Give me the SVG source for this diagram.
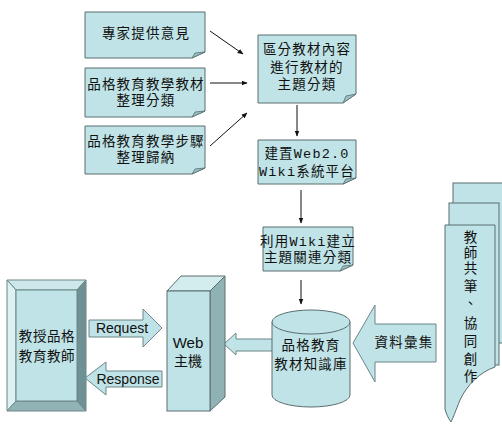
<svg xmlns="http://www.w3.org/2000/svg" width="502" height="424" viewBox="0 0 502 424">
<style>
.note{fill:#BFE3E6;stroke:#5a6e70;stroke-width:1}
.fold{fill:#98BFC2;stroke:#5a6e70;stroke-width:0.8}
.t{font-family:"Liberation Mono","Noto Sans CJK TC",monospace;font-size:13.5px;letter-spacing:1.2px;fill:#111;text-anchor:middle;dominant-baseline:central}
.s{font-family:"Liberation Sans","Noto Sans CJK TC",sans-serif;font-size:14px;fill:#111;text-anchor:middle;dominant-baseline:central}
.con{stroke:#111;stroke-width:1;fill:none;marker-end:url(#ah)}
.blk{fill:#BFE3E6;stroke:#6d8689;stroke-width:1}
.face{fill:#BFE3E6;stroke:#5a6e70;stroke-width:1}
</style>
<defs>
<marker id="ah" viewBox="0 0 10 10" refX="9" refY="5" markerWidth="6" markerHeight="6" orient="auto" markerUnits="userSpaceOnUse">
<path d="M0,1 L10,5 L0,9 Z" fill="#111"/>
</marker>
</defs>
<rect width="502" height="424" fill="#fff"/>

<g id="connectors">
<line class="con" x1="210" y1="31" x2="243" y2="54"/>
<line class="con" x1="210" y1="83" x2="247" y2="83"/>
<line class="con" x1="210" y1="146" x2="247" y2="113"/>
<line class="con" x1="297" y1="105" x2="297" y2="136"/>
<line class="con" x1="301" y1="190" x2="301" y2="223"/>
<line class="con" x1="301" y1="280" x2="301" y2="304"/>
<g id="request">
<polygon class="blk" points="89,320 143,320 143,309 162,328 143,347 143,337 89,337"/>
<text class="s" x="122" y="328">Request</text>
</g>
<g id="response">
<polygon class="blk" points="85,378 106,362 106,371 162,371 162,387 106,387 106,395"/>
<text class="s" x="128" y="379">Response</text>
</g>
<polygon class="blk" points="224,344 236,333 236,339 274,339 274,351 236,351 236,355"/>
<g id="collect">
<polygon class="blk" points="353,343 375,305 375,324 436,324 436,362 375,362 375,382"/>
<text class="t" x="404" y="343">資料彙集</text>
</g>
</g>

<g id="n1">
<path class="note" d="M85,12 H205 V52 L192,58 H85 Z"/>
<path class="fold" d="M192,58 L195,53 L205,52 Z"/>
<text class="t" x="146" y="34">專家提供意見</text>
</g>
<g id="n2">
<path class="note" d="M85,68 H205 V111 L192,117 H85 Z"/>
<path class="fold" d="M192,117 L195,112 L205,111 Z"/>
<text class="t" x="146" y="85">品格教育教學教材</text>
<text class="t" x="146" y="101">整理分類</text>
</g>
<g id="n3">
<path class="note" d="M85,126 H205 V168 L192,174 H85 Z"/>
<path class="fold" d="M192,174 L195,169 L205,168 Z"/>
<text class="t" x="146" y="142">品格教育教學步驟</text>
<text class="t" x="146" y="158">整理歸納</text>
</g>
<g id="n4">
<path class="note" d="M258,35 H356 V94 L343,103 H258 Z"/>
<path class="fold" d="M343,103 L346,96 L356,94 Z"/>
<text class="t" x="307" y="50">區分教材內容</text>
<text class="t" x="307" y="68">進行教材的</text>
<text class="t" x="307" y="85">主題分類</text>
</g>
<g id="n5">
<path class="note" d="M258,140 H356 V178 L343,184 H258 Z"/>
<path class="fold" d="M343,184 L346,179 L356,178 Z"/>
<text class="t" x="307" y="154">建置Web2.0</text>
<text class="t" x="307" y="172">Wiki系統平台</text>
</g>
<g id="n6">
<path class="note" d="M263,227 H353 V265 L340,271 H263 Z"/>
<path class="fold" d="M340,271 L343,266 L353,265 Z"/>
<text class="t" x="308" y="242">利用Wiki建立</text>
<text class="t" x="308" y="258">主題關連分類</text>
</g>

<g id="teacher">
<polygon points="7,280 86,280 77,290 16,290" fill="#CDE8EB" stroke="#6d8689"/>
<polygon points="7,280 16,290 16,401 7,411" fill="#DDF0F2" stroke="#6d8689"/>
<polygon points="86,280 86,411 77,401 77,290" fill="#6F9194" stroke="#6d8689"/>
<polygon points="7,411 16,401 77,401 86,411" fill="#92B3B6" stroke="#6d8689"/>
<rect x="16" y="290" width="61" height="111" fill="#BFE3E6" stroke="#6d8689"/>
<text class="t" x="47" y="337" style="letter-spacing:0.6px">教授品格</text>
<text class="t" x="47" y="357" style="letter-spacing:0.6px">教育教師</text>
</g>

<g id="web">
<polygon points="167,291 181,276 225,276 210,291" fill="#D3EDEF" stroke="#5a6e70"/>
<polygon points="210,291 225,276 225,397 210,411" fill="#8FB2B5" stroke="#5a6e70"/>
<rect class="face" x="167" y="291" width="43" height="120"/>
<text class="s" x="188" y="342" style="font-size:15px">Web</text>
<text class="s" x="188" y="360" style="font-family:'Noto Sans CJK TC',sans-serif">主機</text>
</g>

<g id="db">
<path class="face" d="M272,322 V395 A39,12 0 0 0 350,395 V322"/>
<ellipse class="face" cx="311" cy="322" rx="39" ry="12"/>
<text class="t" x="311" y="346">品格教育</text>
<text class="t" x="311" y="365">教材知識庫</text>
</g>

<g id="docs">
<rect x="453" y="183" width="50" height="160" fill="#BFE3E6" stroke="#5a6e70"/>
<rect x="449" y="203" width="50" height="162" fill="#BFE3E6" stroke="#5a6e70"/>
<path d="M445,225 H495 V367 C480,372 467,385 460,400 C456,410 453,418 451,422 C448,418 446,413 445,409 Z" fill="#BFE3E6" stroke="#5a6e70"/>
<g class="t">
<text x="471" y="238">教</text>
<text x="471" y="254">師</text>
<text x="471" y="269">共</text>
<text x="471" y="287">筆</text>
<text x="471" y="304">、</text>
<text x="471" y="324">協</text>
<text x="471" y="342">同</text>
<text x="471" y="360">創</text>
<text x="471" y="377">作</text>
</g>
</g>
</svg>
